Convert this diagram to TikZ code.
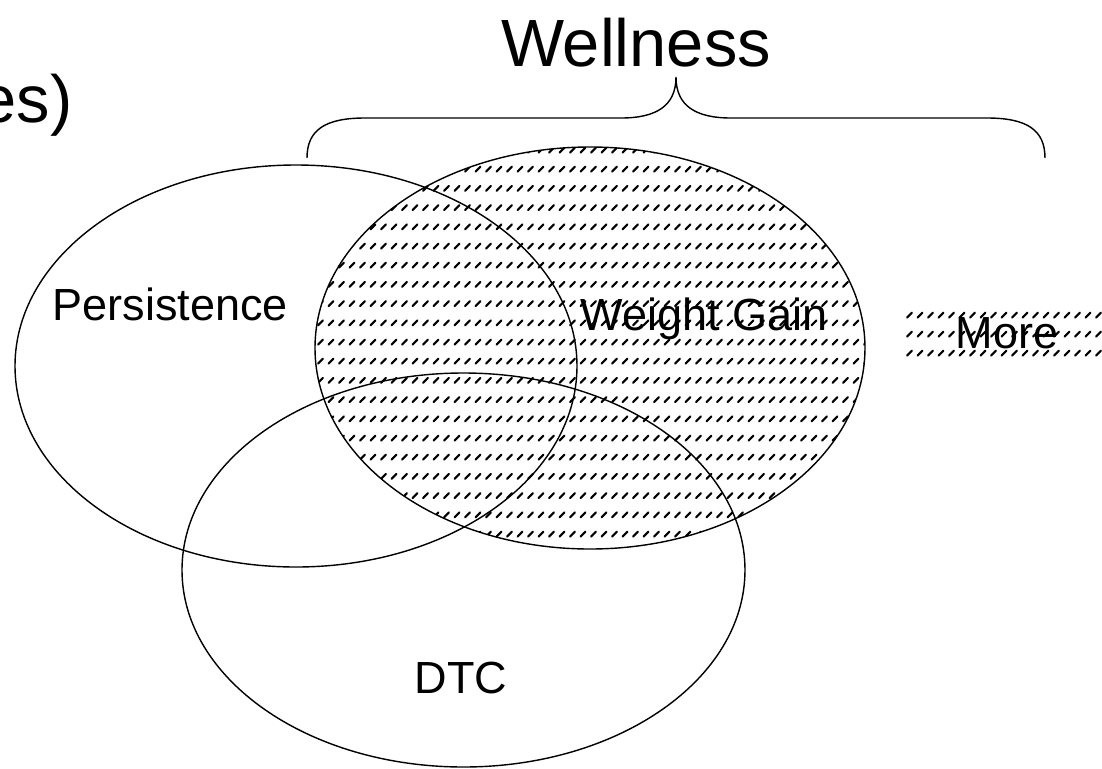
\documentclass[tikz,border=0pt]{standalone}
\usepackage{fontspec}
\setmainfont{Liberation Sans}
\usetikzlibrary{positioning}
\tikzset{>=latex, line width=0.9pt}
\tikzset{
  setname/.style={font=\fontsize{12.8}{15}\selectfont, inner sep=0pt},
  bigname/.style={font=\fontsize{19}{23}\selectfont, inner sep=0pt},
  hatchmark/.style={line width=0.6pt, line cap=round},
}

\begin{document}
\begin{tikzpicture}[x=0.01cm, y=-0.01cm]
  \useasboundingbox (0,0) rectangle (1102,769);
  \def\tipx{676}

  % Weight Gain (hatched)
  \begin{scope}
    \clip (590,348) ellipse [x radius=275, y radius=201];
    \foreach \yy in {150,169.2,...,560}
      \foreach \xx in {318,328.5,...,880}
        \draw[hatchmark] (\xx,\yy+2.5) -- ++(5,-5);
  \end{scope}
  \draw (590,348) ellipse [x radius=275, y radius=201];

  % Persistence
  \draw (296,366) ellipse [x radius=281, y radius=201];

  % DTC
  \draw (463.5,570) ellipse [x radius=281.5, y radius=197];

  % labels
  \node[setname, anchor=base west] (persist) at (52,320) {Persistence};
  \node[setname, anchor=base west] (weight) at (580,330) {Weight Gain};
  \node[setname, anchor=base] (dtc) at (461,693) {DTC};
  \node[setname, anchor=base west] (more) at (955,348) {More};

  % More (hatched band)
  \foreach \yy in {315,334,353}
    \foreach \xx in {907,917.5,...,1110}
      \draw[hatchmark] (\xx,\yy+2.5) -- ++(5,-5);

  % Wellness brace
  \node[bigname, anchor=base] (well) at (636,66) {Wellness};
  \node[bigname, anchor=base east] (cut) at (73,122) {es)};
  \draw (307,158) .. controls (307,130) and (325,118) .. (365,118)
    -- (\tipx-55,118) .. controls (\tipx-20,118) and (\tipx,106) .. (\tipx,77)
    .. controls (\tipx,106) and (\tipx+20,118) .. (\tipx+55,118)
    -- (987,118) .. controls (1027,118) and (1045,130) .. (1045,158);
\end{tikzpicture}
\end{document}
